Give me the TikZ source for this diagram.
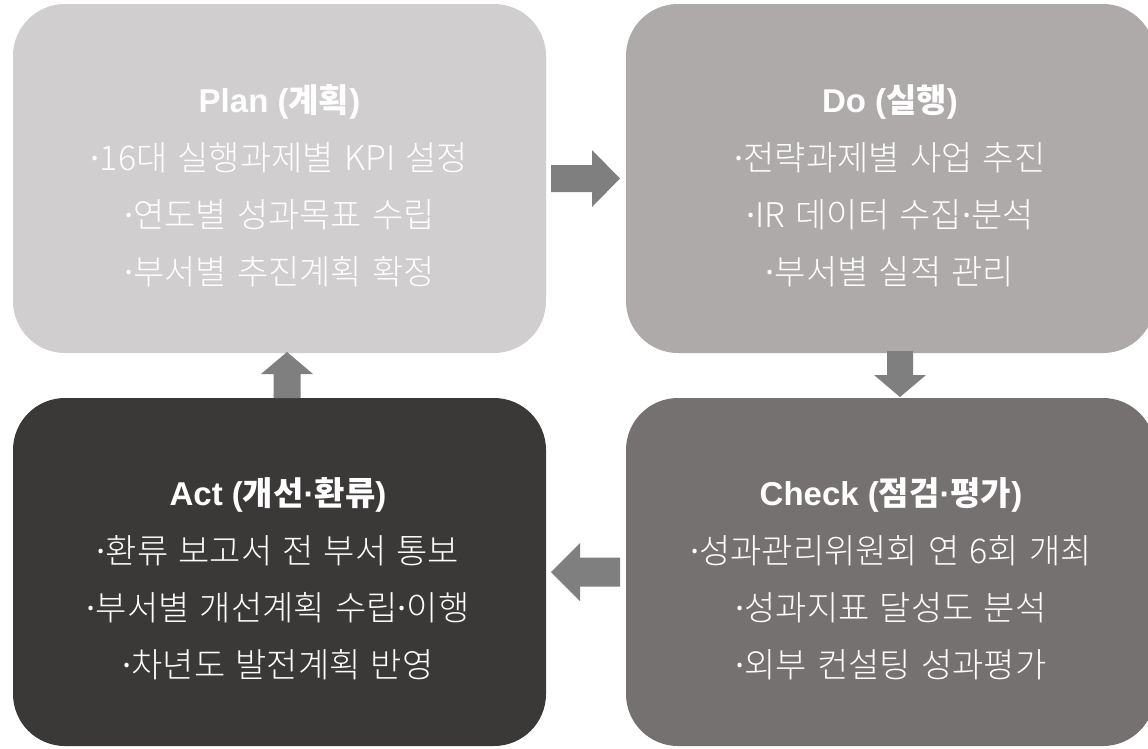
\documentclass[tikz,border=0pt]{standalone}
\usepackage{fontspec}
\setmainfont{Noto Sans CJK KR}[WordSpace=1.35]
\IfFontExistsTF{Noto Sans CJK KR Light}{\newfontfamily\bodyf{Noto Sans CJK KR Light}[WordSpace=1.35]}{\newcommand{\bodyf}{\rmfamily}}
\newfontfamily\latf{Noto Sans}
\newfontfamily\latb{Liberation Sans}
\newcommand{\md}{{\latf ·}}
\newcommand{\mdb}{{\latb\bfseries ·}}
\usetikzlibrary{calc}
\definecolor{cplan}{HTML}{D0CECE}
\definecolor{cdo}{HTML}{AEAAAA}
\definecolor{ccheck}{HTML}{757171}
\definecolor{cact}{HTML}{3B3838}
\definecolor{carrow}{HTML}{7F7F7F}
\tikzset{
  box/.style={rectangle, rounded corners=52pt, inner sep=0pt, outer sep=0pt, draw=none},
  ttl/.style={anchor=base, text=white, inner sep=0pt, font=\fontsize{33}{38}\selectfont\bfseries},
  itm/.style={anchor=base, text=white, inner sep=0pt, font=\fontsize{34}{39}\selectfont\bodyf},
  arrowfill/.style={fill=carrow, draw=none}
}
\begin{document}
\begin{tikzpicture}[x=1pt,y=-1pt]
\useasboundingbox (0,0) rectangle (1148,748);
\clip (0,0) rectangle (1148,748);
\fill[white] (0,0) rectangle (1148,748);
% boxes
\node[box, fill=cplan, minimum width=533pt, minimum height=349pt] (plan) at (279.5,178.5) {};
\node[box, fill=cdo, minimum width=529pt, minimum height=349pt] (do) at (890.5,178.5) {};
\node[box, fill=cact, minimum width=533pt, minimum height=348pt] (act) at (279.5,572) {};
\node[box, fill=ccheck, minimum width=529pt, minimum height=348pt] (check) at (890.5,572) {};
% texts
\node[ttl] (planT) at (279.5,112) {{\latb Plan (}계획{\latb )}};
\node[itm] (plan1) at (279.5,170) {\md{}16대 실행과제별 KPI 설정};
\node[itm] (plan2) at (279.5,227) {\md{}연도별 성과목표 수립};
\node[itm] (plan3) at (279.5,284) {\md{}부서별 추진계획 확정};
\node[ttl] (doT) at (890,112) {{\latb Do (}실행{\latb )}};
\node[itm] (do1) at (890,170) {\md{}전략과제별 사업 추진};
\node[itm] (do2) at (890,227) {\md{}IR 데이터 수집\md{}분석};
\node[itm] (do3) at (890,284) {\md{}부서별 실적 관리};
\node[ttl] (checkT) at (891,505) {{\latb Check (}점검\mdb{}평가{\latb )}};
\node[itm] (check1) at (891,563) {\md{}성과관리위원회 연 6회 개최};
\node[itm] (check2) at (891,620) {\md{}성과지표 달성도 분석};
\node[itm] (check3) at (891,677) {\md{}외부 컨설팅 성과평가};
\node[ttl] (actT) at (278,505) {{\latb Act (}개선\mdb{}환류{\latb )}};
\node[itm] (act1) at (278,563) {\md{}환류 보고서 전 부서 통보};
\node[itm] (act2) at (278,620) {\md{}부서별 개선계획 수립\md{}이행};
\node[itm] (act3) at (278,677) {\md{}차년도 발전계획 반영};
% arrows
\coordinate (m1) at ($(plan.east)!0.5!(do.west)$);
\coordinate (m2) at ([xshift=9.5pt]$(do.south)!0.5!(check.north)$);
\coordinate (m3) at ($(act.east)!0.5!(check.west)$);
\coordinate (m4) at ([xshift=7.5pt]$(act.north)!0.5!(plan.south)$);
\fill[arrowfill] ([shift={(-35,-13.5)}]m1) -- ([shift={(6,-13.5)}]m1) -- ([shift={(6,-28.5)}]m1) -- ([shift={(34,0)}]m1) -- ([shift={(6,28.5)}]m1) -- ([shift={(6,13.5)}]m1) -- ([shift={(-35,13.5)}]m1) -- cycle;
\fill[arrowfill] ([shift={(-13,-24.5)}]m2) -- ([shift={(13,-24.5)}]m2) -- ([shift={(13,-0.5)}]m2) -- ([shift={(26,-0.5)}]m2) -- ([shift={(0,21.5)}]m2) -- ([shift={(-26,-0.5)}]m2) -- ([shift={(-13,-0.5)}]m2) -- cycle;
\fill[arrowfill] ([shift={(34,-14.5)}]m3) -- ([shift={(-6,-14.5)}]m3) -- ([shift={(-6,-29)}]m3) -- ([shift={(-35,0)}]m3) -- ([shift={(-6,29)}]m3) -- ([shift={(-6,14.5)}]m3) -- ([shift={(34,14.5)}]m3) -- cycle;
\fill[arrowfill] ([shift={(-13.5,22.5)}]m4) -- ([shift={(-13.5,-1.5)}]m4) -- ([shift={(-26,-1.5)}]m4) -- ([shift={(0,-23.5)}]m4) -- ([shift={(26,-1.5)}]m4) -- ([shift={(13.5,-1.5)}]m4) -- ([shift={(13.5,22.5)}]m4) -- cycle;
\end{tikzpicture}
\end{document}
